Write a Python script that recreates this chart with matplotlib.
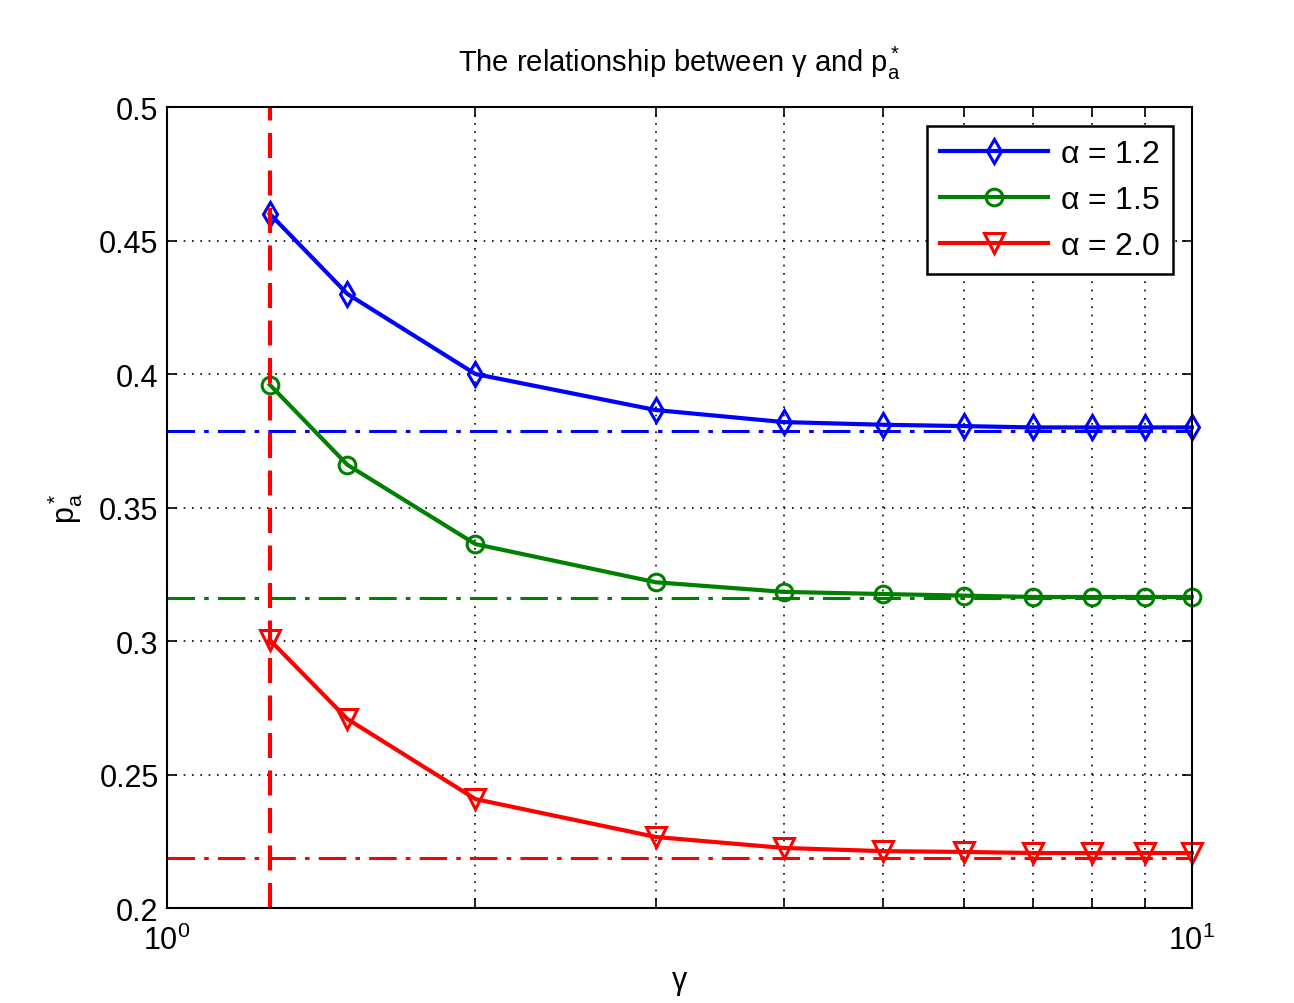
import matplotlib.pyplot as plt
from matplotlib.ticker import FixedLocator, NullFormatter

# data
gamma = [1.26, 1.5, 2, 3, 4, 5, 6, 7, 8, 9, 10]
pa_12 = [0.460, 0.430, 0.400, 0.3865, 0.382, 0.381, 0.3805, 0.380, 0.380, 0.380, 0.380]
pa_15 = [0.396, 0.366, 0.3363, 0.322, 0.3184, 0.3176, 0.317, 0.3165, 0.3165, 0.3165, 0.3165]
pa_20 = [0.3004, 0.2708, 0.2408, 0.2266, 0.2225, 0.2213, 0.221, 0.2206, 0.2206, 0.2206, 0.2206]
limits = [0.3787, 0.316, 0.2187]
gamma_min = 1.26
labels = [r'$\alpha$ = 1.2', r'$\alpha$ = 1.5', r'$\alpha$ = 2.0']
colors = ['#0000ff', '#008000', '#ff0000']
markers = ['d', 'o', 'v']
msizes = [12, 12, 14]

plt.rcParams['font.family'] = ['Liberation Sans', 'DejaVu Sans']
plt.rcParams['mathtext.fontset'] = 'custom'
plt.rcParams['mathtext.rm'] = 'Liberation Sans'
plt.rcParams['mathtext.it'] = 'Liberation Sans'

fig = plt.figure(figsize=(12.94, 10.04), dpi=100)
ax = fig.add_axes([0.129, 0.0946, 0.792, 0.7978])

for ys, c, m, ms, lab in zip([pa_12, pa_15, pa_20], colors, markers, msizes, labels):
    ax.plot(gamma, ys, color=c, marker=m, markersize=ms,
            markerfacecolor='none', markeredgewidth=2.2, linewidth=3, label=lab, clip_on=False)

for y, c in zip(limits, colors):
    ax.plot([1, 10], [y, y], color=c, linestyle=(0, (9, 3, 1.5, 3)), linewidth=2.2)

ax.axvline(gamma_min, color='#ff0000', linestyle=(0, (6, 3)), linewidth=3)

ax.set_xscale('log')
ax.set_xlim(1, 10)
ax.set_ylim(0.2, 0.5)
ax.set_yticks([0.2, 0.25, 0.3, 0.35, 0.4, 0.45, 0.5])
ax.set_yticklabels(['0.2', '0.25', '0.3', '0.35', '0.4', '0.45', '0.5'])
ax.xaxis.set_minor_locator(FixedLocator([2, 3, 4, 5, 6, 7, 8, 9]))
ax.xaxis.set_minor_formatter(NullFormatter())
ax.grid(True, which='both', color='black', linestyle=(0, (1, 4)), linewidth=1.2)
ax.tick_params(which='both', direction='in', labelsize=22, top=True, right=True, length=7, width=1.2)
ax.tick_params(axis='x', pad=12)
ax.tick_params(axis='y', pad=6)
for s in ax.spines.values():
    s.set_linewidth(1.5)

ax.set_title(r'The relationship between $\gamma$ and $\mathregular{p_a^*}$', fontsize=21, pad=26)
ax.set_xlabel(r'$\gamma$', fontsize=22, labelpad=8)
ax.set_ylabel(r'$\mathregular{p_a^*}$', fontsize=22, labelpad=10)

leg = ax.legend(loc='upper right', fontsize=23, fancybox=False, framealpha=1,
                edgecolor='black', handlelength=3.4, borderaxespad=0.6,
                labelspacing=0.5, handletextpad=0.35, borderpad=0.4)
leg.get_frame().set_linewidth(1.8)

fig.savefig('out.png', dpi=100)
